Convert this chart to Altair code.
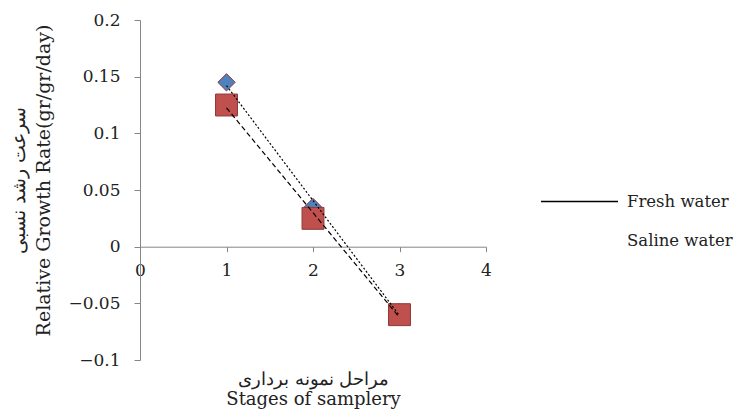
import altair as alt
import pandas as pd

stages = [1, 2, 3]
fresh = [0.145, 0.035, -0.058]
saline = [0.125, 0.025, -0.06]
series_names = ["Fresh water", "Saline water"]
y_ticks = [-0.1, -0.05, 0, 0.05, 0.1, 0.15, 0.2]
x_ticks = [0, 1, 2, 3, 4]

rows = []
for s, vals in zip(series_names, [fresh, saline]):
    for x, v in zip(stages, vals):
        rows.append({"stage": x, "value": v, "series": s})
df = pd.DataFrame(rows)

FONT = "DejaVu Serif"

x_enc = alt.X("stage:Q", scale=alt.Scale(domain=[0, 4], nice=False),
              axis=alt.Axis(values=x_ticks, format="d", offset=-113.3, grid=False,
                            domainColor="#868686", tickColor="#868686", tickSize=5,
                            labelPadding=11, labelFont=FONT, labelFontSize=17,
                            labelColor="#222", labelFlush=False,
                            title=["مراحل نمونه برداری", "Stages of samplery"],
                            titleFont=FONT, titleFontSize=18, titleFontWeight="normal",
                            titleColor="#222", titleY=124, titleBaseline="top",
                            titleLineHeight=20))
y_enc = alt.Y("value:Q", scale=alt.Scale(domain=[-0.1, 0.2], nice=False),
              axis=alt.Axis(values=y_ticks, format="~g", grid=False,
                            domainColor="#868686", tickColor="#868686", tickSize=6,
                            labelPadding=14, labelFont=FONT, labelFontSize=17,
                            labelColor="#222",
                            title=["سرعت رشد نسبی", "Relative Growth Rate(gr/gr/day)"],
                            titleFont=FONT, titleFontSize=19, titleFontWeight="normal",
                            titleColor="#222", titlePadding=14, titleLineHeight=25,
                            titleY=160))

base = alt.Chart(df)

trend = base.transform_regression(
    "stage", "value", groupby=["series"]
).mark_line(color="black", strokeWidth=1.2).encode(
    x=x_enc, y=y_enc,
    strokeDash=alt.StrokeDash("series:N", scale=alt.Scale(domain=series_names,
                              range=[[2, 2], [5, 3]]), legend=None),
)

legend_layer = base.transform_calculate(entry="datum.series").mark_line(opacity=0).encode(
    x=x_enc, y=y_enc,
    color=alt.Color("entry:N", scale=alt.Scale(domain=series_names,
                    range=["black", "transparent"]),
                    legend=alt.Legend(title=None, orient="none", legendX=400, legendY=162,
                                      symbolType="stroke", symbolSize=5929,
                                      symbolStrokeWidth=1.5, symbolOpacity=1,
                                      labelFont=FONT, labelFontSize=16.5, labelColor="#222",
                                      labelOffset=8, rowPadding=0, clipHeight=39,
                                      labelLimit=200)),
)

points = base.mark_point(filled=True, opacity=1, strokeWidth=1).encode(
    x=x_enc, y=y_enc,
    shape=alt.Shape("series:N", scale=alt.Scale(domain=series_names,
                    range=["diamond", "square"]), legend=None),
    fill=alt.Fill("series:N", scale=alt.Scale(domain=series_names,
                  range=["#4F81BD", "#C0504D"]), legend=None),
    stroke=alt.value("#8C3836"),
    size=alt.Size("series:N", scale=alt.Scale(domain=series_names, range=[300, 480]),
                  legend=None),
)

chart = alt.layer(points, trend, legend_layer).resolve_legend(
    color="independent"
).properties(
    width=346, height=340,
    autosize=alt.AutoSizeParams(type="none"),
    padding={"left": 132, "top": 12, "right": 256, "bottom": 49},
).configure_view(stroke=None)

chart.save("out.html", embed_options={"renderer": "svg", "actions": False})
